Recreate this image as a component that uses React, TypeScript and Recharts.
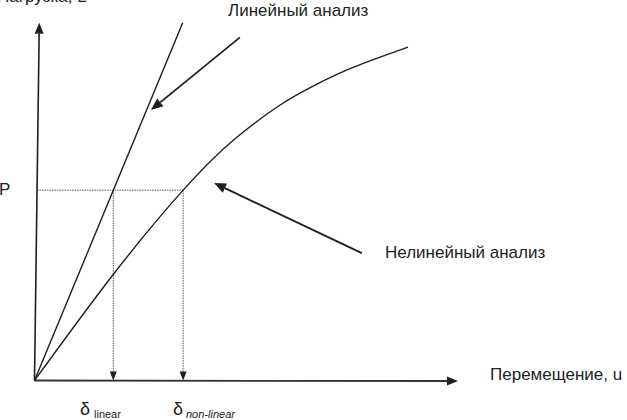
import React from "react";
import { ComposedChart, Line, XAxis, YAxis, ReferenceLine } from "recharts";

// Displacement u (arbitrary units, x-axis arrow = 100) and load P (y-axis arrow = 100)
const linearU = [0, 35];
const linearP = [0, 100];
const nonlinearU = [0, 18.5, 35.1, 47, 58, 65.8, 73.8, 81.6, 88.2];
const nonlinearP = [0, 29.5, 53.2, 67.2, 77.0, 82.3, 86.8, 90.4, 93.2];

const loadP = 53.2; // P level
const deltaLinear = 18.6;
const deltaNonlinear = 35.1;

// axes (start, end) in data units
const yAxisSeg = [{ x: 0, y: 0 }, { x: 1.13, y: 100 }];
const xAxisSeg = [{ x: 0, y: 0 }, { x: 100, y: -0.15 }];
// annotation arrows (tail, tip)
const linearArrow = [{ x: 48.5, y: 95.9 }, { x: 27.5, y: 75.6 }];
const nonlinearArrow = [{ x: 77.3, y: 35.6 }, { x: 42.4, y: 55.2 }];

const linearData = linearU.map((u, i) => ({ u, p: linearP[i] }));
const nonlinearData = nonlinearU.map((u, i) => ({ u, p: nonlinearP[i] }));

const W = 627;
const H = 420;
const X0 = 34.5;
const KX = 4.235;
const Y0 = 380.5;
const KY = 3.578;
const xDomain = [-X0 / KX, (W - X0) / KX];
const yDomain = [-(H - Y0) / KY, Y0 / KY];

const INK = "#1e1e1e";
const DOT = "#555";
const FONT = "'Liberation Sans', Arial, sans-serif";

const makeArrow = (len: number, half: number, color: string, width: number, dash?: string) =>
  (p: any) => {
    const { x1, y1, x2, y2 } = p;
    if ([x1, y1, x2, y2].some((v) => v == null || isNaN(v))) return null;
    const dx = x2 - x1;
    const dy = y2 - y1;
    const d = Math.sqrt(dx * dx + dy * dy) || 1;
    const ux = dx / d;
    const uy = dy / d;
    const bx = x2 - ux * len;
    const by = y2 - uy * len;
    const px = -uy * half;
    const py = ux * half;
    return (
      <g>
        <line x1={x1} y1={y1} x2={bx} y2={by} stroke={color} strokeWidth={width} strokeDasharray={dash} />
        <polygon points={`${x2},${y2} ${bx + px},${by + py} ${bx - px},${by - py}`} fill={INK} />
      </g>
    );
  };

const plainLine = (color: string, width: number, dash?: string) => (p: any) => {
  const { x1, y1, x2, y2 } = p;
  if ([x1, y1, x2, y2].some((v) => v == null || isNaN(v))) return null;
  return <line x1={x1} y1={y1} x2={x2} y2={y2} stroke={color} strokeWidth={width} strokeDasharray={dash} />;
};

const txt = { fontFamily: FONT, fill: "#222" };

export default function App() {
  return (
    <div style={{ position: "absolute", left: 0, top: 0, width: W, height: H, background: "#fff" }}>
      <ComposedChart width={W} height={H} margin={{ top: 0, right: 0, bottom: 0, left: 0 }}>
        <XAxis dataKey="u" type="number" domain={xDomain} allowDataOverflow hide />
        <YAxis type="number" domain={yDomain} allowDataOverflow hide />

        <ReferenceLine segment={[{ x: 0.6, y: loadP }, { x: deltaNonlinear, y: loadP }]} shape={plainLine(DOT, 1, "1.5 1")} />
        <ReferenceLine segment={[{ x: deltaLinear, y: loadP }, { x: deltaLinear, y: 0 }]} shape={makeArrow(9, 3.5, DOT, 1, "1.5 1")} />
        <ReferenceLine segment={[{ x: deltaNonlinear, y: loadP }, { x: deltaNonlinear, y: 0 }]} shape={makeArrow(9, 3.5, DOT, 1, "1.5 1")} />

        <ReferenceLine segment={yAxisSeg} shape={makeArrow(11, 4.5, INK, 1.6)} />
        <ReferenceLine segment={xAxisSeg} shape={makeArrow(11, 4.5, "#333", 1.8)} />

        <Line data={linearData} dataKey="p" type="linear" stroke={INK} strokeWidth={1.4} dot={false} activeDot={false} isAnimationActive={false} />
        <Line data={nonlinearData} dataKey="p" type="natural" stroke={INK} strokeWidth={1.4} dot={false} activeDot={false} isAnimationActive={false} />

        <ReferenceLine segment={linearArrow} shape={makeArrow(12, 5, INK, 1.8)} />
        <ReferenceLine segment={nonlinearArrow} shape={makeArrow(12, 5, INK, 1.8)} />

        <text x={-3} y={2} fontSize={17} {...txt}>Нагрузка, L</text>
        <text x={228} y={16} fontSize={17} {...txt}>Линейный анализ</text>
        <text x={385} y={258} fontSize={17} {...txt}>Нелинейный анализ</text>
        <text x={490} y={380} fontSize={17} {...txt}>Перемещение, u</text>
        <text x={-1} y={195} fontSize={17} {...txt}>P</text>
        <text x={80} y={415} fontSize={18} {...txt}>δ</text>
        <text x={94} y={418} fontSize={11} {...txt}>linear</text>
        <text x={173} y={415} fontSize={18} {...txt}>δ</text>
        <text x={186} y={418} fontSize={11} fontStyle="italic" {...txt}>non-linear</text>
      </ComposedChart>
    </div>
  );
}
